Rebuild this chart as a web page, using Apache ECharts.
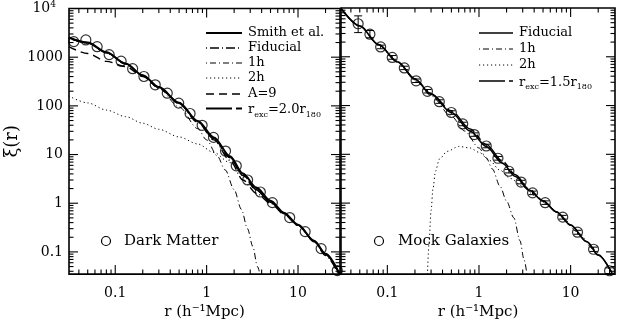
<!DOCTYPE html>
<html>
<head>
<meta charset="utf-8">
<script src="https://cdn.jsdelivr.net/npm/echarts@6/dist/echarts.min.js"></script>
<style>
html, body { margin: 0; padding: 0; background: #fff; }
#chart { width: 622px; height: 325px; }
</style>
</head>
<body>
<div id="chart"></div>
<script>
// measured points (r in h^-1 Mpc)
const dmR = [0.0352, 0.0477, 0.0634, 0.0858, 0.116, 0.155, 0.206, 0.274, 0.371, 0.495, 0.659, 0.893, 1.19, 1.61, 2.11, 2.81, 3.87, 5.24, 8.11, 11.97, 17.9, 26.9];
const dmXi = [2090, 2260, 1640, 1130, 826, 580, 401, 271, 182, 114, 69.6, 39.9, 22.5, 11.8, 5.87, 3.0, 1.70, 1.03, 0.508, 0.261, 0.117, 0.0414];

const mockR = [0.048, 0.0645, 0.0845, 0.113, 0.153, 0.206, 0.274, 0.369, 0.499, 0.665, 0.887, 1.20, 1.61, 2.12, 2.88, 3.84, 5.28, 8.2, 11.9, 17.8, 26.6];
const mockXi = [4750, 2900, 1590, 970, 590, 322, 196, 120, 72, 42, 25.4, 14.8, 8.3, 4.5, 2.7, 1.62, 1.02, 0.515, 0.253, 0.113, 0.041];
const mockLo = [3130, 2450, 1460, 890, 545, 297, 181, 111, 66, 38.5, 23.4, 13.6, 7.6, 4.15, 2.48, 1.49, 0.94, 0.47, 0.23, 0.102, 0.036];
const mockHi = [6900, 3450, 1730, 1060, 640, 350, 213, 131, 78, 45.5, 27.5, 16.1, 9.0, 4.9, 2.93, 1.76, 1.11, 0.56, 0.277, 0.125, 0.047];

// model curves, left panel
const leftR = [0.031, 0.05, 0.08, 0.13, 0.2, 0.3, 0.5, 0.8, 1.2, 1.8, 2.5, 3.5, 5, 7, 10, 15, 20, 28.8];
const smithXi = [2560, 2000, 1260, 740, 425, 245, 116, 49, 22.5, 9.2, 4.1, 2.1, 1.12, 0.64, 0.36, 0.17, 0.092, 0.034];
const fidLeftXi = [2450, 1950, 1230, 730, 420, 240, 112, 46, 20, 7.6, 3.0, 1.6, 1.0, 0.60, 0.35, 0.162, 0.084, 0.030];
const a9Xi = [1650, 1190, 820, 640, 400, 238, 112, 47, 21, 8.6, 3.7, 1.85, 1.05, 0.62, 0.355, 0.165, 0.088, 0.032];
const rexc20Xi = [2500, 1980, 1250, 735, 420, 243, 114, 48, 21.5, 8.8, 3.8, 1.9, 1.05, 0.62, 0.355, 0.168, 0.09, 0.033];
const twoHaloLeftXi = [160, 115, 82, 60, 44, 33, 23, 16.5, 11, 6.8, 3.9, 2.0, 1.1, 0.64, 0.355, 0.167, 0.088, 0.032];
const oneHaloLeftR = [0.031, 0.05, 0.08, 0.13, 0.2, 0.3, 0.5, 0.8, 1.0, 1.3, 1.6, 2.0, 2.4, 2.8, 3.2, 3.6, 3.9];
const oneHaloLeftXi = [2440, 1940, 1220, 720, 405, 225, 95, 34, 20, 9.5, 4.8, 1.9, 0.75, 0.3, 0.13, 0.05, 0.03];

// model curves, right panel
const rightR = [0.031, 0.05, 0.08, 0.13, 0.2, 0.3, 0.5, 0.8, 1.2, 1.8, 2.5, 3.5, 5, 7, 10, 15, 20, 30.5];
const fidRightXi = [10000, 4300, 1780, 780, 350, 170, 72, 30, 14.5, 6.6, 3.5, 1.85, 1.1, 0.66, 0.355, 0.162, 0.086, 0.028];
const rexc15Xi = [10000, 4300, 1780, 780, 352, 175, 78, 33, 16, 7.3, 3.8, 1.95, 1.12, 0.66, 0.355, 0.162, 0.086, 0.028];
const oneHaloRightR = [0.031, 0.05, 0.08, 0.13, 0.2, 0.3, 0.5, 0.7, 1.0, 1.2, 1.4, 1.7, 2.0, 2.4, 2.8, 3.1, 3.35];
const oneHaloRightXi = [9900, 4250, 1750, 760, 335, 158, 60, 30, 13.5, 8.5, 5.0, 2.2, 1.1, 0.5, 0.17, 0.07, 0.033];
const twoHaloRightR = [0.274, 0.285, 0.3, 0.315, 0.335, 0.37, 0.45, 0.6, 0.8, 1.0, 1.3, 1.7, 2.2, 3, 4, 5.5, 8, 12, 18, 30.5];
const twoHaloRightXi = [0.034, 0.15, 0.7, 2.0, 4.5, 8, 11.5, 14.5, 13.5, 11, 7.5, 4.7, 3.2, 2.2, 1.45, 0.95, 0.52, 0.25, 0.11, 0.027];

// axes
const xTickVals = [0.1, 1, 10];
const xTickText = ['0.1', '1', '10'];
const yTickVals = [0.1, 1, 10, 100, 1000, 10000];
const yTickText = ['0.1', '1', '10', '100', '1000', '{e|10}{sup|4}'];
const minorMult = [2, 3, 4, 5, 6, 7, 8, 9];

const FONT = '"DejaVu Serif", serif';
const DASH = {
    solid: 'solid',
    fid: [1, 3, 9, 3],
    oneh: [1, 3, 6, 3],
    twoh: [1.2, 2.8],
    a9: [8, 5],
    rexc: [26, 4, 6, 4]
};

function pick(vals, texts) {
    return function (v) {
        for (let i = 0; i < vals.length; i++) {
            if (Math.abs(Math.log10(v) - Math.log10(vals[i])) < 1e-4) return texts[i];
        }
        return '';
    };
}

function tickData() {
    let out = [];
    xTickVals.forEach(v => out.push([v, 1, 1]));
    yTickVals.forEach(v => out.push([1, v, 3]));
    for (let k = -2; k <= 3; k++) {
        minorMult.forEach(m => {
            let v = m * Math.pow(10, k);
            if (k <= 1) out.push([v, 1, 2]);
            out.push([1, v, 4]);
        });
    }
    return out;
}

function renderTicks(params, api) {
    const cs = params.coordSys;
    const kind = api.value(2);
    const len = (kind === 1 || kind === 3) ? 9 : 4.5;
    const st = { stroke: '#000', lineWidth: 1.1 };
    if (kind <= 2) {
        const px = api.coord([api.value(0), 1])[0];
        if (px < cs.x + 1 || px > cs.x + cs.width - 1) return;
        const yb = cs.y + cs.height;
        return {
            type: 'group', children: [
                { type: 'line', shape: { x1: px, y1: yb, x2: px, y2: yb - len }, style: st },
                { type: 'line', shape: { x1: px, y1: cs.y, x2: px, y2: cs.y + len }, style: st }
            ]
        };
    }
    const py = api.coord([1, api.value(1)])[1];
    if (py < cs.y + 1 || py > cs.y + cs.height - 1) return;
    const xr = cs.x + cs.width;
    return {
        type: 'group', children: [
            { type: 'line', shape: { x1: cs.x, y1: py, x2: cs.x + len, y2: py }, style: st },
            { type: 'line', shape: { x1: xr, y1: py, x2: xr - len, y2: py }, style: st }
        ]
    };
}

function renderErr(params, api) {
    const x = api.coord([api.value(0), api.value(1)])[0];
    const y1 = api.coord([api.value(0), api.value(1)])[1];
    const y2 = api.coord([api.value(0), api.value(2)])[1];
    const st = { stroke: '#000', lineWidth: 1 };
    return {
        type: 'group', children: [
            { type: 'line', shape: { x1: x, y1: y1, x2: x, y2: y2 }, style: st },
            { type: 'line', shape: { x1: x - 4, y1: y1, x2: x + 4, y2: y1 }, style: st },
            { type: 'line', shape: { x1: x - 4, y1: y2, x2: x + 4, y2: y2 }, style: st }
        ]
    };
}

function curve(g, rs, xs, width, dash) {
    return {
        type: 'line', xAxisIndex: g, yAxisIndex: g,
        data: rs.map((r, i) => [r, xs[i]]),
        symbol: 'none', smooth: 0.3, smoothMonotone: 'x',
        lineStyle: { color: '#000', width: width, type: dash },
        silent: true, z: 3
    };
}

function xAxis(g, max) {
    return {
        gridIndex: g, type: 'log', min: 0.0312, max: max,
        axisLine: { show: false }, axisTick: { show: false }, splitLine: { show: false },
        axisLabel: { formatter: pick(xTickVals, xTickText), color: '#000', fontFamily: FONT, fontSize: 14, margin: 12 },
        name: 'r (h\u207b\u00b9Mpc)', nameLocation: 'middle', nameGap: 30,
        nameTextStyle: { color: '#000', fontFamily: FONT, fontSize: 15 }
    };
}

function yAxis(g) {
    const ax = {
        gridIndex: g, type: 'log', min: 0.035, max: 10000,
        axisLine: { show: false }, axisTick: { show: false }, splitLine: { show: false },
        axisLabel: { show: false }
    };
    if (g === 0) {
        ax.axisLabel = {
            show: true, formatter: pick(yTickVals, yTickText), color: '#000', fontFamily: FONT, fontSize: 14, margin: 6,
            rich: {
                e: { fontFamily: FONT, fontSize: 14, color: '#000', padding: [0, 0, 0, 0] },
                sup: { fontFamily: FONT, fontSize: 9, color: '#000', verticalAlign: 'top', padding: [0, 7, 8, 0] }
            }
        };
        ax.name = '\u03be(r)';
        ax.nameLocation = 'middle';
        ax.nameGap = 48;
        ax.nameRotate = 90;
        ax.nameTextStyle = { color: '#000', fontFamily: FONT, fontSize: 18 };
    }
    return ax;
}

function legendRow(x0, x1, y, dash, width, label, rich) {
    const els = [{
        type: 'line', shape: { x1: x0, y1: y, x2: x1, y2: y },
        style: { stroke: '#000', lineWidth: width, lineDash: dash === 'solid' ? null : dash }
    }];
    const t = { type: 'text', x: x1 + 6, y: y, style: { text: label, fill: '#000', font: '13px ' + FONT, verticalAlign: 'middle' } };
    if (rich) t.style.rich = rich;
    els.push(t);
    return els;
}

const subRich = {
    a: { fontFamily: FONT, fontSize: 13, color: '#000', verticalAlign: 'bottom', lineHeight: 16 },
    b: { fontFamily: FONT, fontSize: 8, color: '#000', verticalAlign: 'bottom', lineHeight: 16, padding: [0, 0, -2, 0] }
};

let graphics = [];
[
    [33, DASH.solid, 2, 'Smith et al.'],
    [48, DASH.fid, 1.4, 'Fiducial'],
    [63, DASH.oneh, 1, '1h'],
    [78, DASH.twoh, 1, '2h'],
    [94, DASH.a9, 1.4, 'A=9'],
    [108.5, DASH.rexc, 2, '{a|r}{b|exc}{a|=2.0r}{b|180}']
].forEach(r => { graphics = graphics.concat(legendRow(206, 242, r[0], r[1], r[2], r[3], r[3].indexOf('{') === 0 ? subRich : null)); });
[
    [33, DASH.solid, 1.6, 'Fiducial'],
    [49, DASH.oneh, 1, '1h'],
    [65, DASH.twoh, 1, '2h'],
    [81, [26, 4, 6, 4], 1.6, '{a|r}{b|exc}{a|=1.5r}{b|180}']
].forEach(r => { graphics = graphics.concat(legendRow(479, 513, r[0], r[1], r[2], r[3], r[3].indexOf('{') === 0 ? subRich : null)); });
graphics.push({ type: 'circle', shape: { cx: 106, cy: 241, r: 4.5 }, style: { fill: 'none', stroke: '#000', lineWidth: 1.2 } });
graphics.push({ type: 'text', x: 124, y: 241, style: { text: 'Dark Matter', fill: '#000', font: '15px ' + FONT, verticalAlign: 'middle' } });
graphics.push({ type: 'circle', shape: { cx: 379, cy: 241, r: 4.5 }, style: { fill: 'none', stroke: '#000', lineWidth: 1.2 } });
graphics.push({ type: 'text', x: 398, y: 241, style: { text: 'Mock Galaxies', fill: '#000', font: '15px ' + FONT, verticalAlign: 'middle' } });

const chart = echarts.init(document.getElementById('chart'), null, { renderer: 'canvas' });
chart.setOption({
    backgroundColor: '#fff',
    animation: false,
    grid: [
        { left: 69, top: 8, width: 271, height: 270, show: true, borderColor: '#000', borderWidth: 1.6, backgroundColor: 'transparent' },
        { left: 341, top: 8, width: 274, height: 270, show: true, borderColor: '#000', borderWidth: 1.6, backgroundColor: 'transparent' }
    ],
    xAxis: [xAxis(0, 28.8), xAxis(1, 30.5)],
    yAxis: [yAxis(0), yAxis(1)],
    graphic: graphics,
    series: [
        { type: 'custom', xAxisIndex: 0, yAxisIndex: 0, data: tickData(), renderItem: renderTicks, silent: true, clip: false },
        { type: 'custom', xAxisIndex: 1, yAxisIndex: 1, data: tickData(), renderItem: renderTicks, silent: true, clip: false },
        curve(0, leftR, twoHaloLeftXi, 1, DASH.twoh),
        curve(0, oneHaloLeftR, oneHaloLeftXi, 1, DASH.oneh),
        curve(0, leftR, a9Xi, 1.4, DASH.a9),
        curve(0, leftR, fidLeftXi, 1.4, DASH.fid),
        curve(0, leftR, rexc20Xi, 1.6, DASH.rexc),
        curve(0, leftR, smithXi, 2, 'solid'),
        curve(1, twoHaloRightR, twoHaloRightXi, 1, DASH.twoh),
        curve(1, oneHaloRightR, oneHaloRightXi, 1, DASH.oneh),
        curve(1, rightR, rexc15Xi, 1.4, DASH.rexc),
        curve(1, rightR, fidRightXi, 1.6, 'solid'),
        {
            type: 'scatter', xAxisIndex: 0, yAxisIndex: 0, data: dmR.map((r, i) => [r, dmXi[i]]),
            symbol: 'circle', symbolSize: 10, clip: false, silent: true, z: 4,
            itemStyle: { color: 'rgba(0,0,0,0)', borderColor: '#000', borderWidth: 1.2 }
        },
        {
            type: 'custom', xAxisIndex: 1, yAxisIndex: 1, data: mockR.map((r, i) => [r, mockLo[i], mockHi[i]]),
            encode: { x: 0, y: [1, 2] }, renderItem: renderErr, silent: true, clip: false, z: 4
        },
        {
            type: 'scatter', xAxisIndex: 1, yAxisIndex: 1, data: mockR.map((r, i) => [r, mockXi[i]]),
            symbol: 'circle', symbolSize: 10, clip: false, silent: true, z: 4,
            itemStyle: { color: 'rgba(0,0,0,0)', borderColor: '#000', borderWidth: 1.2 }
        }
    ]
});
</script>
</body>
</html>
